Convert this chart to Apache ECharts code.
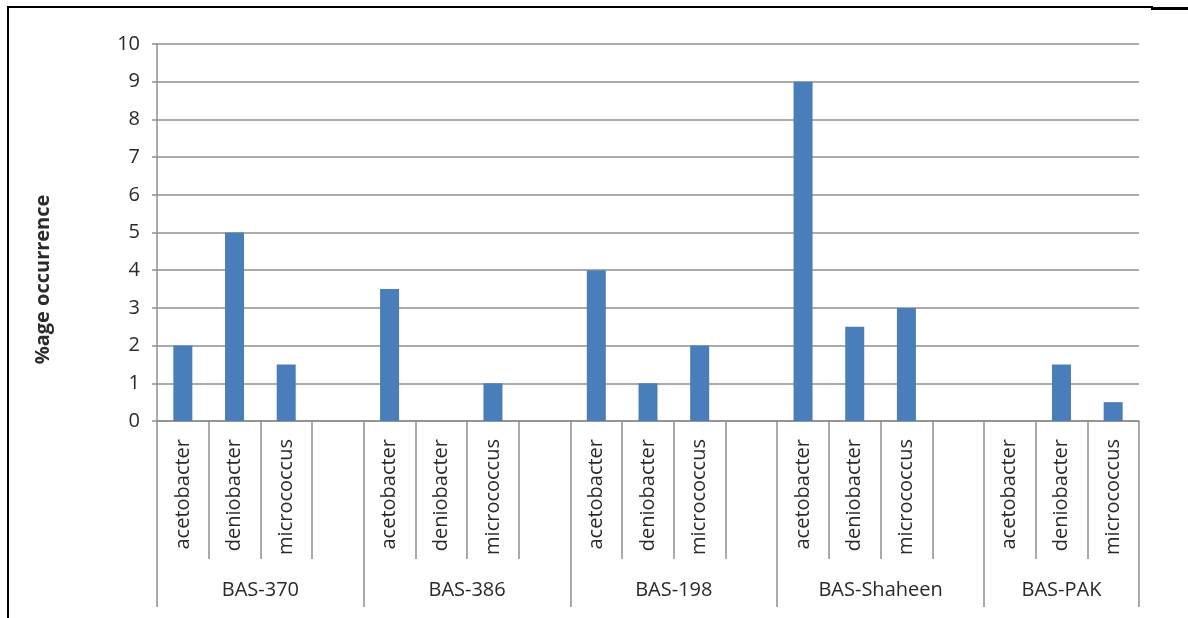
<!DOCTYPE html>
<html>
<head>
<meta charset="utf-8">
<script src="https://cdn.jsdelivr.net/npm/echarts@6/dist/echarts.min.js"></script>
<style>
  html, body { margin: 0; padding: 0; background: #fff; }
  #chart { width: 1188px; height: 618px; }
  .frame { position: absolute; left: 7px; top: 6px; width: 1144px; height: 620px; border-top: 2px solid #000; border-left: 2px solid #000; pointer-events: none; }
  .frame2 { position: absolute; left: 1151px; top: 7px; width: 37px; height: 0; border-top: 3px solid #000; pointer-events: none; }
</style>
</head>
<body>
<div id="chart"></div>
<div class="frame"></div>
<div class="frame2"></div>
<script>
const groups = ['BAS-370', 'BAS-386', 'BAS-198', 'BAS-Shaheen', 'BAS-PAK'];
const species = ['acetobacter', 'deniobacter', 'micrococcus'];
const groupSlots = [4, 4, 4, 4, 3];          // category slots per group (incl. blank spacer)
const bas370 = [2, 5, 1.5];
const bas386 = [3.5, 0, 1];
const bas198 = [4, 1, 2];
const basShaheen = [9, 2.5, 3];
const basPak = [0, 1.5, 0.5];
const yTicks = [0, 1, 2, 3, 4, 5, 6, 7, 8, 9, 10];
const yTitle = '%age occurrence';

const groupValues = [bas370, bas386, bas198, basShaheen, basPak];
const categories = [];
const seriesData = [];
const boundaries = [0];
let pos = 0;
groups.forEach((g, gi) => {
  const n = groupSlots[gi];
  for (let i = 0; i < n; i++) {
    if (i < species.length) {
      categories.push(species[i]);
      seriesData.push(groupValues[gi][i]);
    } else {
      categories.push('');
      seriesData.push('-');
    }
  }
  pos += n;
  boundaries.push(pos);
});
const centers = groups.map((g, gi) => (boundaries[gi] + boundaries[gi + 1]) / 2);
const total = pos;

const FONT = 'Open Sans';
const gray = '#8f8f8f';
const txt = '#2a2a2a';

const chart = echarts.init(document.getElementById('chart'));
chart.setOption({
  animation: false,
  backgroundColor: '#fff',
  grid: { left: 157, right: 49, top: 44, bottom: 197, containLabel: false },
  xAxis: [
    {
      type: 'category',
      data: categories,
      boundaryGap: true,
      axisLine: { show: true, lineStyle: { color: gray, width: 1.5 } },
      axisTick: { show: true, interval: 0, length: 138, lineStyle: { color: gray, width: 1.5 } },
      axisLabel: {
        interval: 0, rotate: 90, margin: 18,
        fontFamily: FONT, fontSize: 20, color: txt
      },
      splitLine: { show: false }
    },
    {
      type: 'value',
      min: 0, max: total,
      position: 'bottom',
      axisLine: { show: false },
      splitLine: { show: false },
      axisTick: {
        show: true, length: 186, customValues: boundaries,
        lineStyle: { color: gray, width: 1.5 }
      },
      axisLabel: {
        show: true, customValues: centers, margin: 159,
        fontFamily: FONT, fontSize: 20, color: txt,
        formatter: function (v) {
          const i = centers.findIndex(c => Math.abs(c - v) < 1e-6);
          return i >= 0 ? groups[i] : '';
        }
      }
    }
  ],
  yAxis: {
    type: 'value',
    min: yTicks[0], max: yTicks[yTicks.length - 1], interval: 1,
    name: yTitle,
    nameLocation: 'middle',
    nameGap: 104,
    nameRotate: 90,
    nameTextStyle: { fontFamily: FONT, fontSize: 20, fontWeight: 'bold', color: txt, padding: [0, 94, 0, 0] },
    axisLine: { show: true, lineStyle: { color: gray, width: 1.5 } },
    axisTick: { show: true, length: 5, lineStyle: { color: gray, width: 1.5 } },
    axisLabel: { margin: 17, fontFamily: FONT, fontSize: 20, color: txt },
    splitLine: { show: true, lineStyle: { color: gray, width: 1.5 } }
  },
  series: [{
    type: 'bar',
    xAxisIndex: 0,
    data: seriesData,
    barWidth: 19,
    itemStyle: { color: '#4a7ebb' }
  }]
});
</script>
</body>
</html>
